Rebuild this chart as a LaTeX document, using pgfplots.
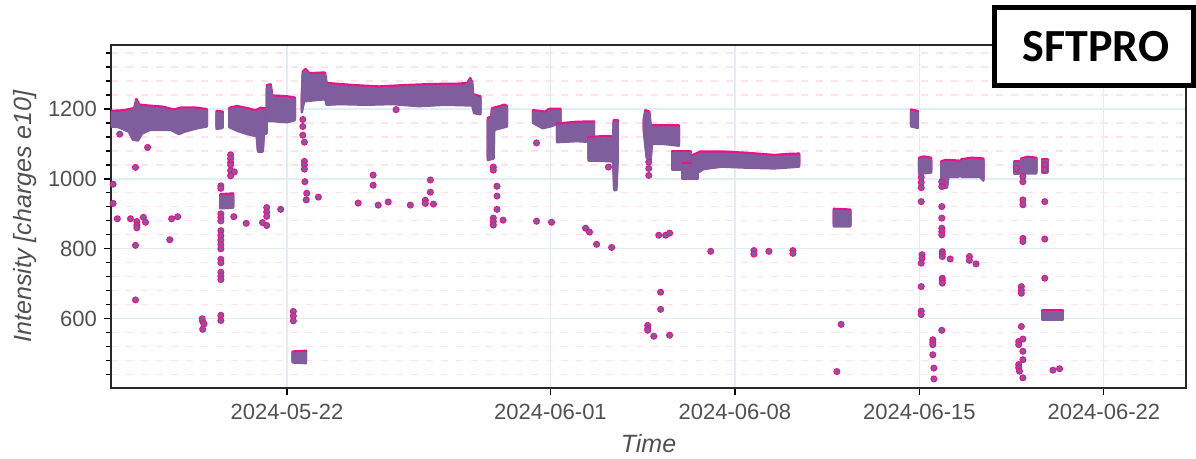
\documentclass[border=0pt]{standalone}
\usepackage{fontspec}
\setmainfont{Liberation Sans}
\newfontfamily\boxfont{Carlito}
\usepackage{pgfplots}
\pgfplotsset{compat=1.18}

\definecolor{bandc}{RGB}{128,94,158}
\definecolor{pinkc}{RGB}{230,20,135}
\definecolor{gridb}{RGB}{226,238,243}
\definecolor{gridp}{RGB}{255,226,235}
\definecolor{txt}{RGB}{80,80,80}

% one dense band of beam intensity: pink top edge under a purple body
\newcommand\band[1]{%
  \addplot[draw=pinkc, fill=pinkc, line width=1.2bp, line join=round, yshift=1.1bp, forget plot] coordinates {#1} --cycle;
  \addplot[draw=bandc, fill=bandc, line width=1.2bp, line join=round, forget plot] coordinates {#1} --cycle;
}

\begin{document}
\begin{tikzpicture}
\useasboundingbox (-55.5bp,-35.5bp) rectangle (542.5bp,194bp);
\begin{axis}[
    at={(0,0)}, anchor=south west, scale only axis,
    width=537.5bp, height=171.5bp,
    xmin=-6.68, xmax=34.12, ymin=402, ymax=1383,
    xtick={0,10,17,24,31},
    xticklabels={2024-05-22,2024-06-01,2024-06-08,2024-06-15,2024-06-22},
    ytick={600,800,1000,1200},
    minor ytick={440,480,520,560,640,680,720,760,840,880,920,960,1040,1080,1120,1160,1240,1280,1320,1360},
    xtick pos=lower, ytick pos=left,
    tick align=outside,
    major tick length=3.5bp, minor tick length=2.5bp,
    every tick/.style={black, line width=0.6bp},
    xmajorgrids, ymajorgrids, yminorgrids,
    major grid style={gridb, line width=0.6bp},
    minor grid style={gridp, line width=0.6bp, dash pattern=on 3.5bp off 4bp},
    axis line style={draw={rgb,255:red,40;green,40;blue,40}, line width=1bp},
    /pgf/number format/assume math mode=true,
    /pgf/number format/1000 sep={},
    ticklabel style={font=\fontsize{11bp}{13bp}\selectfont, text=txt},
    xticklabel style={yshift=-1bp},
    xlabel={Time},
    ylabel={Intensity [charges e10]},
    every axis y label/.style={at={(axis description cs:-0.08,0.5)}, rotate=90, anchor=center,
        font=\fontsize{12.5bp}{14bp}\selectfont\itshape, text=txt},
    every axis x label/.style={at={(axis description cs:0.5,-0.163)}, anchor=center,
        font=\fontsize{12.5bp}{14bp}\selectfont\itshape, text=txt},
]
% dense bands (days since 2024-05-22, intensity)
\band{(-6.68,1188) (-6.2,1190) (-5.8,1196) (-5.72,1222) (-5.6,1206) (-5.2,1203) (-4.7,1200) (-4.3,1192) (-4.0,1198) (-3.5,1198) (-3.04,1193)
      (-3.04,1150) (-3.4,1145) (-3.9,1135) (-4.1,1128) (-4.4,1140) (-5.2,1140) (-5.5,1130) (-5.65,1110) (-5.85,1112) (-6.0,1135) (-6.4,1148) (-6.68,1150)}
\band{(-2.67,1188) (-2.44,1186) (-2.44,1146) (-2.67,1143)}
\band{(-2.19,1197) (-1.9,1202) (-1.5,1196) (-1.2,1190) (-1.0,1197) (-0.77,1195)
      (-0.77,1130) (-0.88,1128) (-0.92,1078) (-1.1,1078) (-1.15,1122) (-1.5,1128) (-1.9,1138) (-2.19,1148)}
\band{(-0.77,1200) (-0.76,1262) (-0.62,1264) (-0.56,1232) (0.0,1230) (0.3,1226)
      (0.3,1168) (0.0,1162) (-0.5,1165) (-0.77,1165)}
\band{(0.56,1225) (0.6,1300) (0.7,1308) (0.85,1296) (1.44,1298) (1.5,1268) (2.5,1262) (3.5,1258) (4.5,1262) (5.5,1265) (6.5,1266) (6.85,1268) (6.95,1282) (7.03,1270) (7.06,1236) (7.34,1230)
      (7.34,1185) (7.1,1188) (7.03,1210) (6.0,1212) (5.0,1208) (4.0,1214) (3.0,1212) (2.0,1214) (1.5,1212) (1.45,1228) (0.65,1222) (0.56,1190)}
\band{(7.62,1168) (7.75,1172) (7.78,1196) (8.0,1200) (8.25,1206) (8.35,1202)
      (8.35,1150) (8.0,1143) (7.86,1140) (7.84,1058) (7.62,1054)}
\band{(9.34,1190) (9.8,1186) (9.95,1194) (10.38,1194) (10.38,1160) (10.0,1150) (9.7,1145) (9.34,1160)}
\band{(10.25,1152) (11.0,1157) (11.65,1158) (11.65,1105) (11.0,1108) (10.25,1105)}
\band{(11.45,1113) (12.0,1116) (12.38,1115) (12.4,1162) (12.55,1162)
      (12.55,1060) (12.5,968) (12.42,968) (12.38,1050) (11.8,1052) (11.45,1052)}
\band{(13.54,1165) (13.6,1190) (13.75,1186) (13.8,1147) (14.87,1147)
      (14.87,1095) (14.3,1100) (13.85,1100) (13.8,1055) (13.65,1060) (13.54,1140)}
\band{(14.62,1074) (15.32,1074) (15.32,1025) (14.62,1025)}
\band{(15.0,1040) (15.58,1040) (15.58,999) (15.0,999)}
\band{(15.4,1062) (15.7,1072) (16.5,1072) (17.5,1068) (18.5,1062) (19.0,1065) (19.44,1066)
      (19.44,1035) (18.5,1030) (17.5,1032) (16.5,1035) (15.8,1028) (15.6,1018) (15.4,1030)}
\band{(20.75,908) (21.38,906) (21.38,864) (20.75,864)}
\band{(23.69,1192) (23.94,1188) (23.94,1146) (23.69,1150)}
\band{(23.99,1054) (24.15,1058) (24.45,1054) (24.45,1018) (23.99,1015)}
\band{(24.83,1044) (25.0,1048) (25.5,1046) (25.5,1006) (25.1,1006) (25.05,975) (24.83,975)}
\band{(25.59,1050) (26.0,1054) (26.43,1052) (26.43,995) (26.3,1006) (25.59,1006)}
\band{(27.6,1044) (27.8,1044) (27.8,1016) (27.6,1016)}
\band{(27.87,1052) (28.1,1057) (28.44,1054) (28.44,1016) (27.87,1016)}
\band{(28.66,1050) (28.86,1050) (28.86,1018) (28.66,1018)}
\band{(-2.53,950) (-2.04,952) (-2.04,918) (-2.53,916)}
\band{(0.21,500) (0.72,502) (0.72,473) (0.21,475)}
\band{(28.68,619) (29.44,619) (29.44,597) (28.68,597)}
% isolated shots
\addplot[only marks, mark=*, mark size=1.5bp,
         mark options={fill=bandc, draw=pinkc, line width=0.5bp}] coordinates {
(-6.6,985) (-6.6,930) (-6.35,1128) (-6.44,886) (-5.94,886) (-5.75,1033) (-5.7,878) (-5.7,868) (-5.7,860)
(-5.75,810) (-5.75,654) (-5.45,890) (-5.37,876) (-5.29,1090) (-4.45,826) (-4.38,886) (-4.15,892)
(-3.2,592) (-3.15,585) (-3.22,600) (-3.2,570) (-2.51,610) (-2.51,595)
(-2.51,980) (-2.51,973) (-2.51,900) (-2.51,890) (-2.51,880) (-2.51,852) (-2.51,838) (-2.51,825)
(-2.51,812) (-2.51,800) (-2.51,770) (-2.51,760) (-2.51,733) (-2.51,722) (-2.51,712)
(-2.14,1069) (-2.14,1058) (-2.14,1047) (-2.14,1040) (-2.14,1024) (-2.0,1020) (-2.14,1009)
(-2.02,892) (-1.55,873) (-0.93,875) (-0.77,918) (-0.77,905) (-0.77,893) (-0.77,867) (-0.24,913)
(0.24,621) (0.24,608) (0.24,594)
(0.6,1170) (0.6,1150) (0.6,1125) (0.66,1105) (0.66,1050) (0.66,1040) (0.66,1028) (0.68,992) (0.75,959) (0.73,940) (1.19,948)
(2.7,931) (3.27,1011) (3.27,982) (3.46,925) (3.84,934) (4.14,1198) (4.68,925) (5.25,939) (5.25,930)
(5.44,997) (5.44,962) (5.56,928)
(7.83,888) (7.83,878) (7.83,868) (8.2,882) (7.83,1034) (7.83,1025) (7.97,979) (7.97,951) (7.97,913)
(9.47,879) (10.04,876) (11.33,859) (11.48,848) (11.75,813) (12.32,804)
(13.69,581) (13.69,572) (13.69,567) (13.92,550) (14.52,553) (14.18,676) (14.18,627)
(14.11,839) (14.37,839) (14.52,845)
(16.08,793) (17.72,795) (17.72,785) (18.29,793) (19.2,795) (19.2,787)
(9.47,1103) (12.2,1034) (13.73,1048) (13.73,1030) (13.73,1010)
(20.87,449) (21.03,584)
(24.07,1005) (24.07,990) (24.07,975) (24.07,935) (24.1,783) (24.1,773) (24.07,759) (24.07,692) (24.07,622) (24.07,612)
(24.51,540) (24.51,533) (24.51,526) (24.51,497) (24.55,459) (24.55,428)
(24.85,992) (24.85,978) (24.85,921) (24.85,888) (24.85,859) (24.85,849) (24.85,840)
(24.87,792) (24.87,785) (24.87,778) (24.87,716) (24.87,709) (24.87,702) (24.85,567)
(25.17,771) (25.9,778) (25.9,767) (26.15,757)
(27.68,1030) (27.93,1007) (27.93,992) (27.93,940) (27.93,926) (27.93,830) (27.93,821)
(27.87,692) (27.87,682) (27.87,673)
(27.87,578) (27.77,535) (27.77,526) (27.93,542) (27.93,507) (27.93,483) (27.77,469) (27.77,460) (27.8,450) (27.93,431)
(28.76,1040) (28.76,1026) (28.76,935) (28.76,828) (28.76,716)
(29.07,453) (29.32,457)
};
\end{axis}
\filldraw[fill=white, draw=black, line width=2.5bp] (441.9bp,151.25bp) rectangle (541.25bp,190.4bp);
\node at (492.5bp,170.7bp) {\boxfont\bfseries\fontsize{23bp}{26bp}\selectfont SFTPRO};
\end{tikzpicture}
\end{document}
